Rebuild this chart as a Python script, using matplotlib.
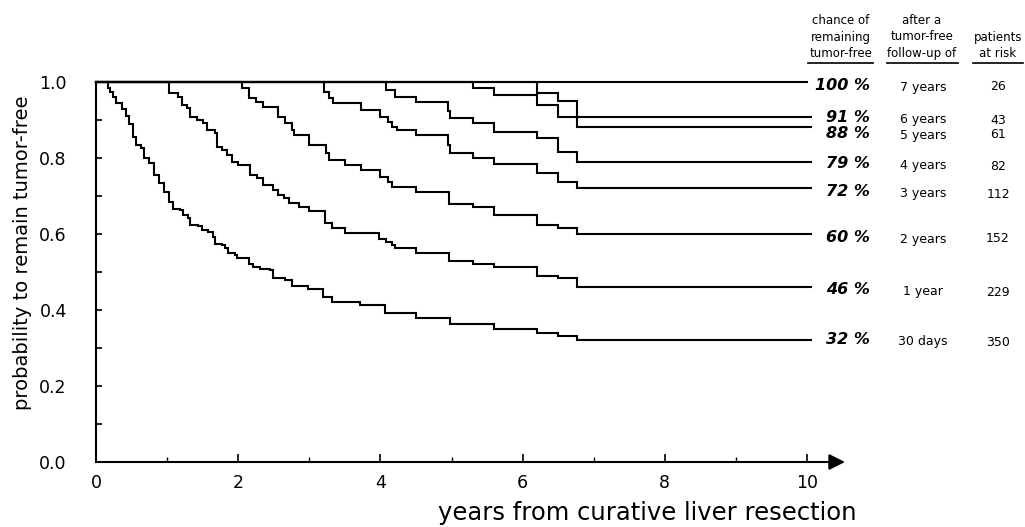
import matplotlib
matplotlib.use("Agg")
import matplotlib.pyplot as plt
from matplotlib.ticker import FixedLocator

# ---------------- data ----------------
t_30d = [0, 0.17, 0.20, 0.24, 0.28, 0.36, 0.42, 0.47, 0.52, 0.56, 0.63, 0.68, 0.75, 0.82,
         0.88, 0.95, 1.02, 1.08, 1.18, 1.22, 1.29, 1.32, 1.43, 1.49, 1.58, 1.65, 1.67,
         1.77, 1.81, 1.86, 1.95, 1.98, 2.15, 2.21, 2.31, 2.45, 2.49, 2.66, 2.76, 2.98,
         3.19, 3.32, 3.71, 4.06, 4.5, 4.98, 5.6, 6.2, 6.5, 6.77, 10.05]
s_30d = [1.0, 0.985, 0.975, 0.96, 0.945, 0.93, 0.91, 0.89, 0.855, 0.834, 0.826, 0.80, 0.786,
         0.755, 0.733, 0.71, 0.685, 0.667, 0.662, 0.649, 0.641, 0.625, 0.62, 0.61, 0.604,
         0.591, 0.575, 0.57, 0.562, 0.549, 0.544, 0.536, 0.52, 0.512, 0.509, 0.504, 0.485,
         0.478, 0.464, 0.456, 0.433, 0.42, 0.412, 0.393, 0.38, 0.364, 0.351, 0.34, 0.332,
         0.32, 0.32]

t_1y = [0, 1.03, 1.15, 1.21, 1.28, 1.32, 1.42, 1.5, 1.56, 1.67, 1.7, 1.77, 1.84, 1.91, 2.0,
        2.17, 2.26, 2.35, 2.49, 2.56, 2.65, 2.72, 2.86, 3.0, 3.22, 3.32, 3.5, 3.98, 4.08,
        4.17, 4.21, 4.5, 4.97, 5.3, 5.6, 6.2, 6.5, 6.77, 10.05]
s_1y = [1.0, 0.97, 0.96, 0.939, 0.931, 0.908, 0.9, 0.892, 0.873, 0.865, 0.828, 0.82, 0.807,
        0.789, 0.781, 0.755, 0.747, 0.728, 0.715, 0.702, 0.694, 0.681, 0.67, 0.66, 0.628,
        0.615, 0.602, 0.588, 0.578, 0.57, 0.562, 0.551, 0.53, 0.522, 0.512, 0.49, 0.483,
        0.46, 0.46]

t_2y = [0, 2.05, 2.15, 2.25, 2.35, 2.56, 2.66, 2.76, 2.78, 3.0, 3.23, 3.28, 3.5, 3.73, 4.0,
        4.1, 4.17, 4.5, 4.97, 5.3, 5.6, 6.2, 6.5, 6.77, 10.05]
s_2y = [1.0, 0.984, 0.958, 0.947, 0.934, 0.908, 0.892, 0.873, 0.86, 0.834, 0.813, 0.794,
        0.781, 0.768, 0.749, 0.736, 0.723, 0.71, 0.68, 0.67, 0.649, 0.623, 0.617, 0.60, 0.60]

t_3y = [0, 3.2, 3.28, 3.33, 3.73, 4.0, 4.1, 4.17, 4.24, 4.5, 4.95, 4.98, 5.3, 5.6, 6.2, 6.5,
        6.77, 10.05]
s_3y = [1.0, 0.974, 0.958, 0.945, 0.926, 0.908, 0.894, 0.881, 0.873, 0.86, 0.835, 0.813,
        0.801, 0.783, 0.76, 0.738, 0.72, 0.72]

t_4y = [0, 4.08, 4.2, 4.5, 4.95, 4.98, 5.3, 5.6, 6.2, 6.5, 6.77, 10.05]
s_4y = [1.0, 0.979, 0.96, 0.947, 0.925, 0.905, 0.892, 0.868, 0.852, 0.815, 0.789, 0.789]

t_5y = [0, 5.3, 5.6, 6.2, 6.5, 10.05]
s_5y = [1.0, 0.984, 0.966, 0.939, 0.907, 0.907]

t_6y = [0, 6.2, 6.5, 6.77, 10.05]
s_6y = [1.0, 0.971, 0.95, 0.881, 0.881]

t_7y = [0, 10.0]
s_7y = [1.0, 1.0]

# table at the right (top to bottom)
pct_labels = ["100 %", "91 %", "88 %", "79 %", "72 %", "60 %", "46 %", "32 %"]
followup_labels = ["7 years", "6 years", "5 years", "4 years", "3 years", "2 years",
                   "1 year", "30 days"]
at_risk = [26, 43, 61, 82, 112, 152, 229, 350]

x_ticks = [0, 2, 4, 6, 8, 10]
y_ticks = [0.0, 0.2, 0.4, 0.6, 0.8, 1.0]

# ---------------- layout ----------------
W, H = 1025, 527
fig = plt.figure(figsize=(W / 100, H / 100), dpi=100)
plt.rcParams['font.family'] = ['DejaVu Sans']

x0_px, x10_px, y0_px, y1_px = 96, 807, 462, 82
px_per_year = (x10_px - x0_px) / 10.0
right_px = 845
xmax = (right_px - x0_px) / px_per_year
ax = fig.add_axes([x0_px / W, (H - y0_px) / H, (right_px - x0_px) / W, (y0_px - y1_px) / H])
ax.set_xlim(0, xmax)
ax.set_ylim(0, 1.0)

curves = [(t_30d, s_30d), (t_1y, s_1y), (t_2y, s_2y), (t_3y, s_3y), (t_4y, s_4y),
          (t_5y, s_5y), (t_6y, s_6y), (t_7y, s_7y)]
for t, s in curves:
    ax.step(t, s, where='post', color='black', lw=1.5, clip_on=False, solid_joinstyle='miter')

for side in ('top', 'right', 'bottom'):
    ax.spines[side].set_visible(False)
ax.spines['left'].set_linewidth(1.5)

# x axis with arrow
ax.annotate('', xy=(xmax, 0), xytext=(0, 0), xycoords='data',
            arrowprops=dict(arrowstyle='-|>', color='black', lw=1.5, mutation_scale=24,
                            shrinkA=0, shrinkB=0), annotation_clip=False)

ax.set_xticks(x_ticks)
ax.set_xticklabels([str(v) for v in x_ticks])
ax.xaxis.set_minor_locator(FixedLocator([1, 3, 5, 7, 9]))
ax.set_yticks(y_ticks)
ax.set_yticklabels([f"{v:.1f}" for v in y_ticks])
ax.yaxis.set_minor_locator(FixedLocator([0.1, 0.3, 0.5, 0.7, 0.9]))
ax.tick_params(axis='x', which='major', direction='in', length=6, width=1.2, pad=9,
               labelsize=12.5)
ax.tick_params(axis='x', which='minor', direction='in', length=3.5, width=1.0)
ax.tick_params(axis='y', which='both', direction='in', length=4.5, width=1.2, pad=21,
               labelsize=12.5)

# axis titles
fig.text(23 / W, 1 - 253 / H, "probability to remain tumor-free", rotation=90,
         ha='center', va='center', fontsize=14)
fig.text(857 / W, 1 - 513 / H, "years from curative liver resection",
         ha='right', va='center', fontsize=17.5)

# table on the right
def dx(px):
    return (px - x0_px) / px_per_year

def dy(py):
    return (y0_px - py) / (y0_px - y1_px)

row_py = [85, 118, 133, 164, 192, 237, 290, 340]
for lab, fu, n, py in zip(pct_labels, followup_labels, at_risk, row_py):
    ax.text(dx(870), dy(py), lab, ha='right', va='center', fontsize=11.5,
            fontweight='bold', fontstyle='italic', clip_on=False)
    ax.text(dx(923), dy(py + 2), fu, ha='center', va='center', fontsize=9, clip_on=False)
    ax.text(dx(998), dy(py + 2), str(n), ha='center', va='center', fontsize=9,
            clip_on=False)

hdr_kw = dict(ha='center', va='bottom', fontsize=8.5, linespacing=1.35, clip_on=False)
ax.text(dx(841), dy(60), "chance of\nremaining\ntumor-free", **hdr_kw)
ax.text(dx(922), dy(60), "after a\ntumor-free\nfollow-up of", **hdr_kw)
ax.text(dx(998), dy(60), "patients\nat risk", **hdr_kw)
for a, b in [(808, 873), (887, 958), (973, 1023)]:
    ax.plot([dx(a), dx(b)], [dy(63), dy(63)], color='black', lw=1.2, clip_on=False)

fig.savefig("out.png", dpi=100)
